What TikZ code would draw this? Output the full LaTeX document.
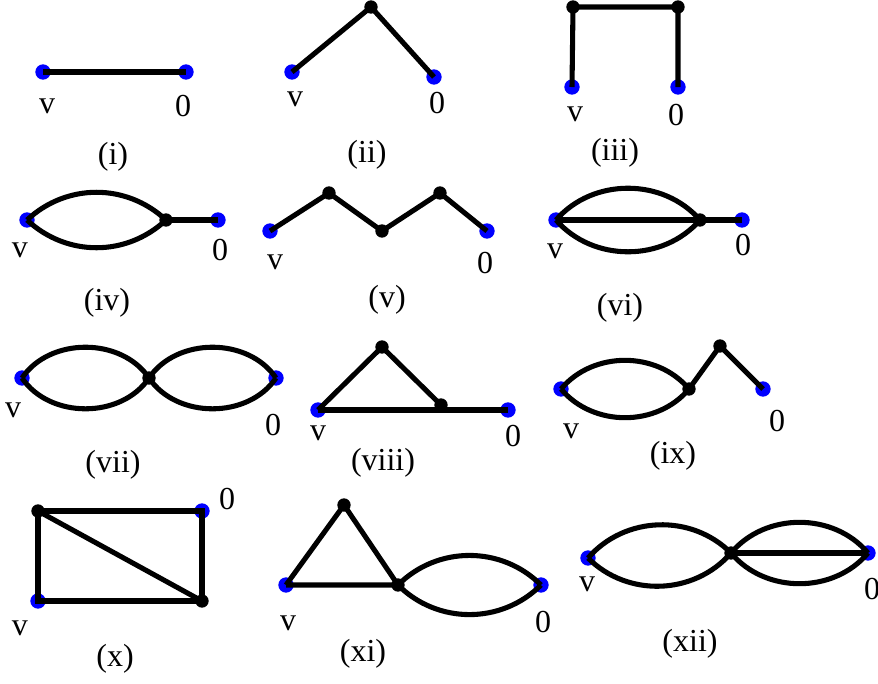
\documentclass[tikz,border=0pt]{standalone}
\usepackage{fontspec}
\setmainfont{Liberation Serif}
\begin{document}
\begin{tikzpicture}[x=0.75pt,y=-0.75pt,
  bdot/.style={circle,fill=blue,inner sep=0pt,minimum size=11.5pt},
  kdot/.style={circle,fill=black,inner sep=0pt,minimum size=10pt},
  edge/.style={line width=3.8pt},
  lbl/.style={font=\fontsize{24}{28}\selectfont,inner sep=0pt}]
\useasboundingbox (0,0) rectangle (878,683);
% (i)
\node[bdot] (v1) at (43,72) {};
\node[bdot] (z1) at (186,72) {};
\draw[edge] (v1.center) -- (z1.center);
\node[lbl] (lv1) at (47,106) {v};
\node[lbl] (lz1) at (183,106) {0};
\node[lbl] (t1) at (113,157) {(i)};
% (ii)
\node[bdot] (v2) at (292,72) {};
\node[kdot] (a2) at (371,7) {};
\node[bdot] (z2) at (434,77) {};
\draw[edge] (v2.center) -- (a2.center) -- (z2.center);
\node[lbl] (lv2) at (295,99) {v};
\node[lbl] (lz2) at (437,103) {0};
\node[lbl] (t2) at (367,155) {(ii)};
% (iii)
\node[bdot] (v3) at (572,87) {};
\node[kdot] (a3) at (573,7) {};
\node[kdot] (b3) at (678,7) {};
\node[bdot] (z3) at (678,87) {};
\draw[edge] (v3.center) -- (a3.center) -- (b3.center) -- (z3.center);
\node[lbl] (lv3) at (575,114) {v};
\node[lbl] (lz3) at (676,115) {0};
\node[lbl] (t3) at (615,153) {(iii)};
% (iv)
\node[bdot] (v4) at (27,220) {};
\node[kdot] (a4) at (166,220) {};
\node[bdot] (z4) at (218,220) {};
\draw[edge] (v4.center) to[bend left=43] (a4.center);
\draw[edge] (v4.center) to[bend right=43] (a4.center);
\draw[edge] (a4.center) -- (z4.center);
\node[lbl] (lv4) at (20,250) {v};
\node[lbl] (lz4) at (220,250) {0};
\node[lbl] (t4) at (107,303) {(iv)};
% (v)
\node[bdot] (v5) at (270,231) {};
\node[kdot] (a5) at (329,193) {};
\node[kdot] (b5) at (382,231) {};
\node[kdot] (c5) at (440,193) {};
\node[bdot] (z5) at (487,231) {};
\draw[edge] (v5.center) -- (a5.center) -- (b5.center) -- (c5.center) -- (z5.center);
\node[lbl] (lv5) at (275,262) {v};
\node[lbl] (lz5) at (485,263) {0};
\node[lbl] (t5) at (387,300) {(v)};
% (vi)
\node[bdot] (v6) at (556,220) {};
\node[kdot] (a6) at (700,220) {};
\node[bdot] (z6) at (742,220) {};
\draw[edge] (v6.center) to[bend left=49] (a6.center);
\draw[edge] (v6.center) to[bend right=49] (a6.center);
\draw[edge] (v6.center) -- (a6.center) -- (z6.center);
\node[lbl] (lv6) at (555,251) {v};
\node[lbl] (lz6) at (743,245) {0};
\node[lbl] (t6) at (620,308) {(vi)};
% (vii)
\node[bdot] (v7) at (22,378) {};
\node[kdot] (a7) at (149,378) {};
\node[bdot] (z7) at (276,378) {};
\draw[edge] (v7.center) to[bend left=56] (a7.center);
\draw[edge] (v7.center) to[bend right=56] (a7.center);
\draw[edge] (a7.center) to[bend left=56] (z7.center);
\draw[edge] (a7.center) to[bend right=56] (z7.center);
\node[lbl] (lv7) at (13,410) {v};
\node[lbl] (lz7) at (273,425) {0};
\node[lbl] (t7) at (113,465) {(vii)};
% (viii)
\node[bdot] (v8) at (318,410) {};
\node[kdot] (a8) at (382,347) {};
\node[kdot] (b8) at (441,405) {};
\node[bdot] (z8) at (508,410) {};
\draw[edge] (v8.center) -- (a8.center) -- (b8.center);
\draw[edge] (v8.center) -- (z8.center);
\node[lbl] (lv8) at (318,433) {v};
\node[lbl] (lz8) at (513,436) {0};
\node[lbl] (t8) at (383,463) {(viii)};
% (ix)
\node[bdot] (v9) at (561,389) {};
\node[kdot] (a9) at (689,389) {};
\node[kdot] (b9) at (720,346) {};
\node[bdot] (z9) at (763,389) {};
\draw[edge] (v9.center) to[bend left=50] (a9.center);
\draw[edge] (v9.center) to[bend right=50] (a9.center);
\draw[edge] (a9.center) -- (b9.center) -- (z9.center);
\node[lbl] (lv9) at (571,431) {v};
\node[lbl] (lz9) at (777,421) {0};
\node[lbl] (t9) at (673,456) {(ix)};
% (x)
\node[kdot] (a10) at (38,511) {};
\node[bdot] (z10) at (202,511) {};
\node[bdot] (v10) at (38,601) {};
\node[kdot] (b10) at (202,601) {};
\draw[edge] (a10.center) -- (z10.center) -- (b10.center) -- (v10.center) -- (a10.center);
\draw[edge] (a10.center) -- (b10.center);
\node[lbl] (lz10) at (227,499) {0};
\node[lbl] (lv10) at (20,628) {v};
\node[lbl] (t10) at (115,659) {(x)};
% (xi)
\node[kdot] (a11) at (344,505) {};
\node[bdot] (v11) at (286,585) {};
\node[kdot] (b11) at (398,585) {};
\node[bdot] (z11) at (541,585) {};
\draw[edge] (v11.center) -- (a11.center) -- (b11.center) -- (v11.center);
\draw[edge] (b11.center) to[bend left=45] (z11.center);
\draw[edge] (b11.center) to[bend right=45] (z11.center);
\node[lbl] (lv11) at (288,623) {v};
\node[lbl] (lz11) at (543,622) {0};
\node[lbl] (t11) at (363,654) {(xi)};
% (xii)
\node[bdot] (v12) at (588,558) {};
\node[kdot] (a12) at (731,553) {};
\node[bdot] (z12) at (868,553) {};
\draw[edge] (v12.center) to[bend left=47] (a12.center);
\draw[edge] (v12.center) to[bend right=47] (a12.center);
\draw[edge] (a12.center) to[bend left=50] (z12.center);
\draw[edge] (a12.center) to[bend right=50] (z12.center);
\draw[edge] (a12.center) -- (z12.center);
\node[lbl] (lv12) at (587,584) {v};
\node[lbl] (lz12) at (872,589) {0};
\node[lbl] (t12) at (690,644) {(xii)};
\end{tikzpicture}
\end{document}
